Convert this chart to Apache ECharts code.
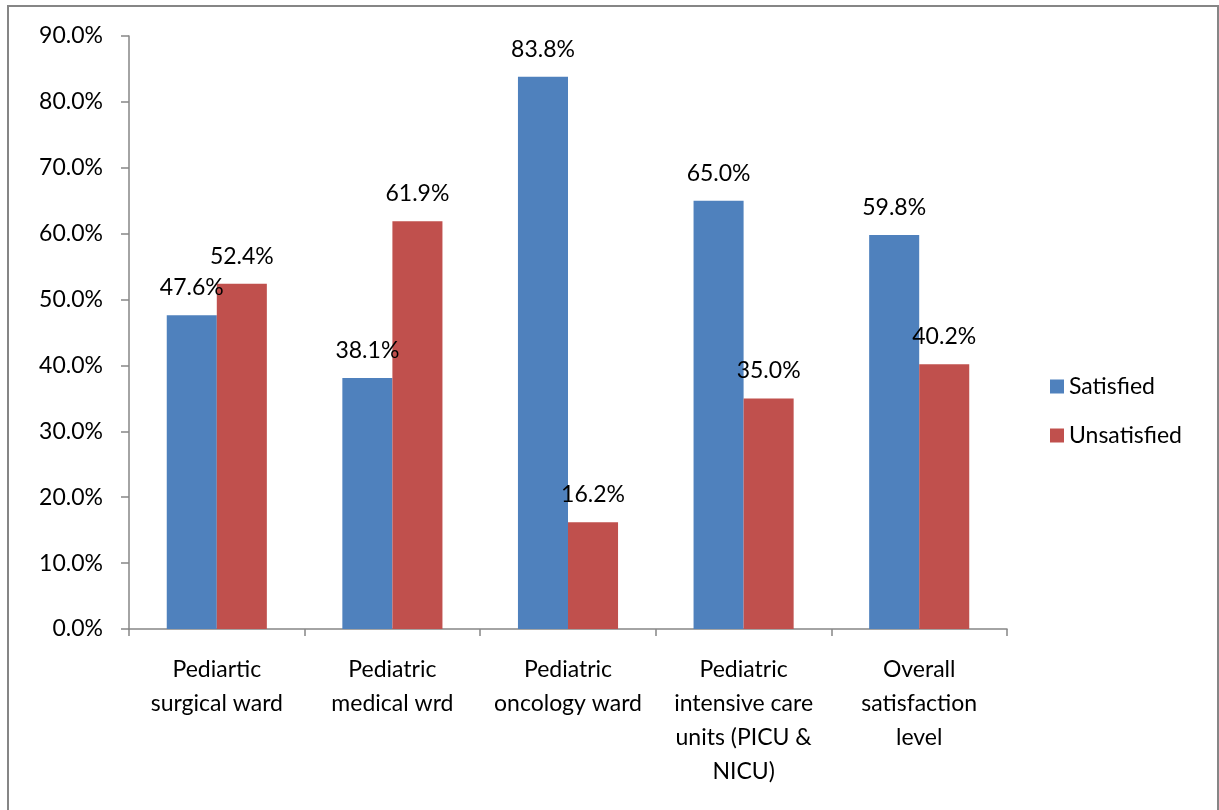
<!DOCTYPE html>
<html>
<head>
<meta charset="utf-8">
<script src="https://cdn.jsdelivr.net/npm/echarts@6/dist/echarts.min.js"></script>
<style>
  html, body { margin: 0; padding: 0; background: #fff; }
  #chart { width: 1219px; height: 810px; }
</style>
</head>
<body>
<div id="chart"></div>
<script>
// Ward names as shown under the axis
const categories = [
  'Pediartic\nsurgical ward',
  'Pediatric\nmedical wrd',
  'Pediatric\noncology ward',
  'Pediatric\nintensive care\nunits (PICU &\nNICU)',
  'Overall\nsatisfaction\nlevel'
];
// Percentages per ward
const satisfied = [47.6, 38.1, 83.8, 65.0, 59.8];
const unsatisfied = [52.4, 61.9, 16.2, 35.0, 40.2];
const seriesNames = ['Satisfied', 'Unsatisfied'];

const FONT = 'Lato, "Open Sans", sans-serif';
const AXIS_GREY = '#868686';

const chart = echarts.init(document.getElementById('chart'), null, { renderer: 'canvas' });

const labelStyle = {
  show: true,
  position: 'top',
  distance: 16,
  color: '#000',
  fontFamily: FONT,
  fontSize: 23,
  formatter: p => p.value.toFixed(1) + '%'
};

chart.setOption({
  animation: false,
  backgroundColor: '#fff',
  graphic: [{
    type: 'rect',
    shape: { x: 8, y: 6, width: 1210, height: 820 },
    style: { fill: 'none', stroke: AXIS_GREY, lineWidth: 2 },
    silent: true,
    z: -1
  }],
  grid: { left: 129, right: 212, top: 36, bottom: 181, containLabel: false },
  legend: {
    orient: 'vertical',
    left: 1045,
    top: 370,
    itemWidth: 14,
    itemHeight: 14,
    itemGap: 26,
    icon: 'rect',
    textStyle: { fontFamily: FONT, fontSize: 23, color: '#000', padding: [0, 0, 0, 0] },
    data: seriesNames
  },
  xAxis: {
    type: 'category',
    data: categories,
    axisLine: { lineStyle: { color: AXIS_GREY, width: 1.5 } },
    axisTick: { show: true, length: 7, lineStyle: { color: AXIS_GREY, width: 1.5 } },
    axisLabel: {
      interval: 0,
      margin: 24,
      color: '#000',
      fontFamily: FONT,
      fontSize: 23,
      lineHeight: 34,
      align: 'center'
    },
    splitLine: { show: false }
  },
  yAxis: {
    type: 'value',
    min: 0,
    max: 90,
    interval: 10,
    axisLine: { show: true, lineStyle: { color: AXIS_GREY, width: 1.5 } },
    axisTick: { show: true, length: 8, lineStyle: { color: AXIS_GREY, width: 1.5 } },
    axisLabel: {
      margin: 26,
      color: '#000',
      fontFamily: FONT,
      fontSize: 23,
      formatter: v => v.toFixed(1) + '%'
    },
    splitLine: { show: false }
  },
  series: [
    {
      name: seriesNames[0],
      type: 'bar',
      data: satisfied,
      barGap: '0%',
      barCategoryGap: '43%',
      itemStyle: { color: '#4F81BD' },
      label: labelStyle
    },
    {
      name: seriesNames[1],
      type: 'bar',
      data: unsatisfied,
      barGap: '0%',
      barCategoryGap: '43%',
      itemStyle: { color: '#C0504D' },
      label: labelStyle
    }
  ]
});
</script>
</body>
</html>
